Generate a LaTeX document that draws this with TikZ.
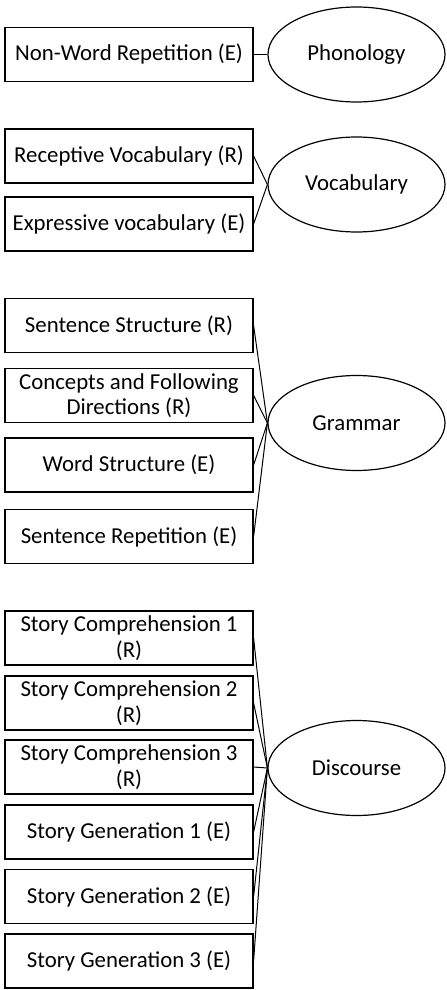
\documentclass[tikz,border=0pt]{standalone}
\usepackage{fontspec}
\setmainfont{Carlito}
\usetikzlibrary{shapes.geometric}

\begin{document}
\begin{tikzpicture}[x=0.5pt,y=-0.5pt,font=\fontsize{11.4}{12.8}\selectfont]

  \tikzstyle{measure}=[rectangle,draw=black,line width=0.6pt,
    minimum height=27pt,minimum width=124pt,align=center,inner sep=1pt]

  \tikzstyle{factor}=[ellipse,draw=black,line width=0.6pt,
    minimum height=47.5pt,minimum width=88.5pt,inner sep=0pt]

  \useasboundingbox (0,0) rectangle (446,990);

  %% \draw [help lines] (0,0) grid (446,990);

  \node  (nwr)  at (129,54.5)  [measure]  {Non-Word Repetition (E)};
  \node  (phon) at (356.5,54.5) [factor]  {Phonology};

  \node  (rv)   at (129,156)   [measure]  {Receptive Vocabulary (R)};
  \node  (ev)   at (129,224)   [measure]  {Expressive vocabulary (E)};
  \node  (voc)  at (356.5,184.5) [factor] {Vocabulary};

  \node  (ss)   at (129,325.5) [measure]  {Sentence Structure (R)};
  \node  (cfd)  at (129,395.5) [measure]  {Concepts and Following\\Directions (R)};
  \node  (ws)   at (129,465)   [measure]  {Word Structure (E)};
  \node  (sr)   at (129,536.5) [measure]  {Sentence Repetition (E)};
  \node  (gram) at (356.5,423) [factor]   {Grammar};

  \node  (sc1)  at (129,638)   [measure]  {Story Comprehension 1\\(R)};
  \node  (sc2)  at (129,703)   [measure]  {Story Comprehension 2\\(R)};
  \node  (sc3)  at (129,767)   [measure]  {Story Comprehension 3\\(R)};
  \node  (sg1)  at (129,832)   [measure]  {Story Generation 1 (E)};
  \node  (sg2)  at (129,896.5) [measure]  {Story Generation 2 (E)};
  \node  (sg3)  at (129,961)   [measure]  {Story Generation 3 (E)};
  \node  (disc) at (356.5,768) [factor]   {Discourse};

  \tikzstyle{load}=[-,line width=0.5pt]

  \path (nwr.east)  edge [load] (phon.west)
        (rv.east)   edge [load] (voc.west)
        (ev.east)   edge [load] (voc.west)
        (ss.east)   edge [load] (gram.west)
        (cfd.east)  edge [load] (gram.west)
        (ws.east)   edge [load] (gram.west)
        (sr.east)   edge [load] (gram.west)
        (sc1.east)  edge [load] (disc.west)
        (sc2.east)  edge [load] (disc.west)
        (sc3.east)  edge [load] (disc.west)
        (sg1.east)  edge [load] (disc.west)
        (sg2.east)  edge [load] (disc.west)
        (sg3.east)  edge [load] (disc.west);

\end{tikzpicture}
\end{document}
